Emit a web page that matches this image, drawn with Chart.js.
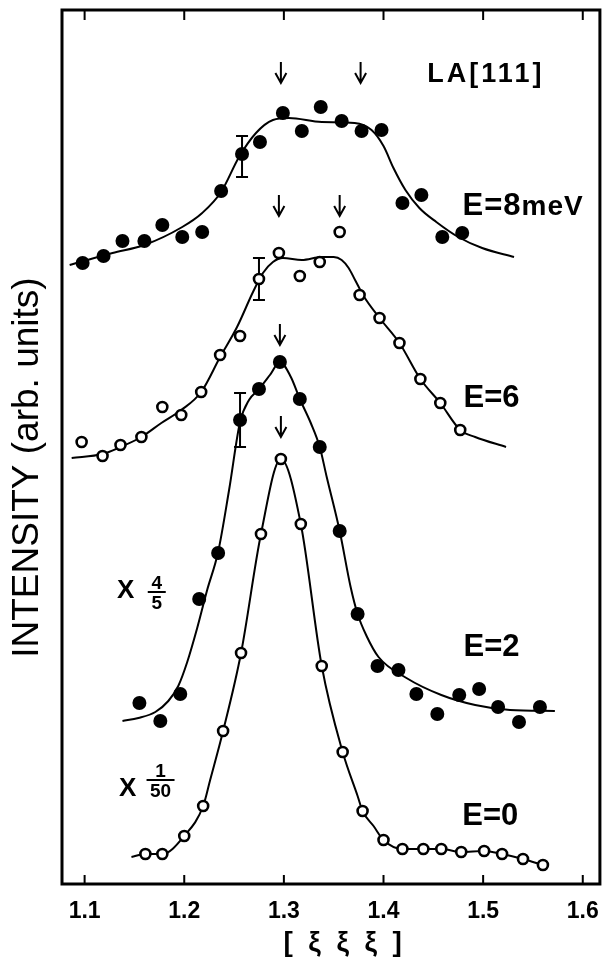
<!DOCTYPE html>
<html>
<head>
<meta charset="utf-8">
<title>LA[111] scans</title>
<script src="https://cdn.jsdelivr.net/npm/chart.js@4.4.1/dist/chart.umd.min.js"></script>
<style>
  html, body { margin: 0; padding: 0; background: #fff; }
  #wrap { width: 613px; height: 963px; }
</style>
</head>
<body>
<div id="wrap"><canvas id="scans" width="613" height="963"></canvas></div>
<script>
// [ξ ξ ξ] positions and intensities (arb. units)
const xTicks = [1.1, 1.2, 1.3, 1.4, 1.5, 1.6];

const e8X = [1.098, 1.119, 1.138, 1.160, 1.178, 1.198, 1.218, 1.237, 1.258, 1.276, 1.299, 1.318, 1.337, 1.358, 1.378, 1.398, 1.419, 1.438, 1.459, 1.479];
const e8Y = [621, 628, 643, 643, 659, 647, 652, 693, 730, 742, 771, 753, 777, 763, 753, 754, 681, 689, 647, 651];
const e8FitX = [1.085, 1.128, 1.160, 1.198, 1.218, 1.237, 1.255, 1.272, 1.289, 1.305, 1.338, 1.371, 1.388, 1.400, 1.410, 1.422, 1.436, 1.453, 1.475, 1.499, 1.531];
const e8FitY = [619, 631, 639, 657, 671, 692, 727, 751, 764, 766, 762, 761, 754, 738, 716, 694, 676, 662, 647, 636, 627];

const e6X = [1.097, 1.118, 1.136, 1.157, 1.178, 1.197, 1.217, 1.236, 1.256, 1.275, 1.295, 1.316, 1.336, 1.356, 1.376, 1.396, 1.416, 1.437, 1.457, 1.477];
const e6Y = [442, 428, 439, 447, 477, 469, 492, 529, 548, 605, 631, 608, 622, 652, 589, 566, 541, 505, 481, 454];
const e6FitX = [1.087, 1.118, 1.136, 1.157, 1.177, 1.197, 1.217, 1.236, 1.253, 1.269, 1.279, 1.289, 1.299, 1.318, 1.338, 1.350, 1.358, 1.365, 1.372, 1.380, 1.396, 1.416, 1.437, 1.457, 1.477, 1.492, 1.523];
const e6FitY = [426, 430, 437, 447, 461, 474, 492, 527, 557, 592, 611, 622, 626, 624, 627, 627, 624, 616, 603, 588, 566, 541, 505, 481, 454, 447, 437];

const e2X = [1.155, 1.176, 1.196, 1.215, 1.234, 1.256, 1.275, 1.296, 1.316, 1.336, 1.356, 1.374, 1.394, 1.415, 1.433, 1.454, 1.476, 1.496, 1.515, 1.536, 1.557];
const e2Y = [181, 163, 190, 285, 331, 464, 495, 522, 485, 437, 353, 270, 218, 214, 190, 170, 189, 195, 177, 162, 177];
const e2FitX = [1.138, 1.154, 1.171, 1.184, 1.194, 1.203, 1.213, 1.223, 1.234, 1.245, 1.256, 1.265, 1.275, 1.286, 1.296, 1.307, 1.316, 1.327, 1.336, 1.343, 1.356, 1.367, 1.374, 1.383, 1.395, 1.423, 1.458, 1.492, 1.527, 1.572];
const e2FitY = [163, 166, 172, 183, 198, 222, 256, 294, 332, 394, 462, 484, 495, 509, 522, 507, 485, 461, 437, 407, 353, 297, 270, 248, 227, 206, 189, 179, 174, 173];

const e0X = [1.161, 1.178, 1.200, 1.219, 1.239, 1.257, 1.277, 1.297, 1.317, 1.338, 1.359, 1.379, 1.400, 1.419, 1.440, 1.458, 1.478, 1.501, 1.519, 1.540, 1.560];
const e0Y = [30, 30, 48, 78, 153, 231, 350, 425, 360, 218, 132, 73, 44, 35, 35, 35, 32, 33, 30, 25, 19];
const e0FitX = [1.147, 1.161, 1.178, 1.200, 1.219, 1.226, 1.239, 1.257, 1.277, 1.297, 1.317, 1.338, 1.359, 1.374, 1.379, 1.390, 1.400, 1.419, 1.440, 1.458, 1.478, 1.501, 1.519, 1.540, 1.560];
const e0FitY = [27, 30, 30, 48, 78, 104, 153, 231, 350, 425, 360, 218, 132, 88, 73, 58, 44, 35, 35, 35, 32, 33, 30, 25, 19];

// phonon positions marked by arrows (tip of the arrow)
const arrowX = [1.297, 1.377, 1.295, 1.356, 1.296, 1.297];
const arrowY = [801, 801, 668, 668, 539, 447];

// typical error bars
const errX = [1.258, 1.275, 1.256];
const errLo = [707, 584, 437];
const errHi = [748, 626, 491];

const FONT = '"Liberation Sans", Arial, Helvetica, sans-serif';

// text placed in data coordinates (x = ξ, y = baseline)
const notes = [
  { parts: [['LA[111]', 27]], x: 1.4440, y: 802, spacing: 3 },
  { parts: [['E=8', 31], ['meV', 28]], x: 1.4793, y: 669, spacing: 1 },
  { parts: [['E=6', 31]], x: 1.4803, y: 477 },
  { parts: [['E=2', 31]], x: 1.4803, y: 228 },
  { parts: [['E=0', 31]], x: 1.4790, y: 59 },
  { parts: [['X', 26]], x: 1.1325, y: 286 },
  { parts: [['X', 26]], x: 1.1345, y: 88 }
];
const fractions = [
  { num: '4', den: '5', x: 1.1724, y: 292, half: 9 },
  { num: '1', den: '50', x: 1.1762, y: 104, half: 14 }
];

function dots(xs, ys, filled) {
  return {
    data: xs.map((v, i) => ({ x: v, y: ys[i] })),
    showLine: false,
    pointRadius: filled ? 7 : 5,
    pointBorderWidth: filled ? 0 : 2.6,
    pointBackgroundColor: filled ? '#000' : '#fff',
    pointBorderColor: '#000',
    order: 0
  };
}

function fit(xs, ys) {
  return {
    data: xs.map((v, i) => ({ x: v, y: ys[i] })),
    showLine: true,
    pointRadius: 0,
    borderColor: '#000',
    borderWidth: 2,
    cubicInterpolationMode: 'monotone',
    order: 1
  };
}

const figurePlugin = {
  id: 'figure',
  beforeDatasetsDraw(chart) {
    const { ctx, scales: { x, y } } = chart;
    ctx.save();
    ctx.strokeStyle = '#000';
    ctx.lineWidth = 2;
    errX.forEach((v, i) => {
      const px = x.getPixelForValue(v);
      const lo = y.getPixelForValue(errLo[i]);
      const hi = y.getPixelForValue(errHi[i]);
      ctx.beginPath();
      ctx.moveTo(px, lo); ctx.lineTo(px, hi);
      ctx.moveTo(px - 6, lo); ctx.lineTo(px + 6, lo);
      ctx.moveTo(px - 6, hi); ctx.lineTo(px + 6, hi);
      ctx.stroke();
    });
    ctx.restore();
  },
  afterDatasetsDraw(chart) {
    const { ctx, chartArea: a, scales: { x, y } } = chart;
    ctx.save();
    ctx.strokeStyle = '#000';
    ctx.fillStyle = '#000';

    // arrows
    ctx.lineWidth = 2;
    arrowX.forEach((v, i) => {
      const px = x.getPixelForValue(v);
      const tip = y.getPixelForValue(arrowY[i]);
      ctx.beginPath();
      ctx.moveTo(px, tip - 21); ctx.lineTo(px, tip);
      ctx.moveTo(px - 5.5, tip - 10); ctx.lineTo(px, tip); ctx.lineTo(px + 5.5, tip - 10);
      ctx.stroke();
    });

    // frame with inward ticks
    ctx.lineWidth = 3;
    ctx.strokeRect(a.left, a.top, a.right - a.left, a.bottom - a.top);
    ctx.lineWidth = 2;
    xTicks.forEach(v => {
      const px = x.getPixelForValue(v);
      ctx.beginPath();
      ctx.moveTo(px, a.bottom); ctx.lineTo(px, a.bottom - 9);
      ctx.moveTo(px, a.top); ctx.lineTo(px, a.top + 10);
      ctx.stroke();
    });

    // labels
    ctx.textBaseline = 'alphabetic';
    ctx.textAlign = 'left';
    notes.forEach(n => {
      let px = x.getPixelForValue(n.x);
      const py = y.getPixelForValue(n.y);
      ctx.letterSpacing = (n.spacing || 0) + 'px';
      n.parts.forEach(([t, size]) => {
        ctx.font = `bold ${size}px ${FONT}`;
        ctx.fillText(t, px, py);
        px += ctx.measureText(t).width;
      });
    });
    ctx.letterSpacing = '0px';

    ctx.textAlign = 'center';
    ctx.font = `bold 19px ${FONT}`;
    fractions.forEach(f => {
      const px = x.getPixelForValue(f.x);
      const py = y.getPixelForValue(f.y);
      ctx.fillText(f.num, px, py - 3.5);
      ctx.fillText(f.den, px, py + 17);
      ctx.beginPath();
      ctx.moveTo(px - f.half, py); ctx.lineTo(px + f.half, py);
      ctx.stroke();
    });
    ctx.restore();
  }
};

Chart.defaults.font.family = FONT;
Chart.defaults.color = '#000';

new Chart(document.getElementById('scans'), {
  type: 'scatter',
  data: {
    datasets: [
      dots(e8X, e8Y, true),
      dots(e6X, e6Y, false),
      dots(e2X, e2Y, true),
      dots(e0X, e0Y, false),
      fit(e8FitX, e8FitY),
      fit(e6FitX, e6FitY),
      fit(e2FitX, e2FitY),
      fit(e0FitX, e0FitY)
    ]
  },
  options: {
    responsive: false,
    animation: false,
    events: [],
    layout: { padding: { top: 10, right: 3, left: 0, bottom: 0 } },
    plugins: {
      legend: { display: false },
      tooltip: { enabled: false }
    },
    scales: {
      x: {
        type: 'linear',
        min: 1.0773,
        max: 1.6172,
        grid: { display: false, drawTicks: false },
        border: { display: false },
        afterBuildTicks: s => { s.ticks = xTicks.map(v => ({ value: v })); },
        afterFit: s => { s.height = 79; },
        ticks: {
          padding: 14,
          color: '#000',
          font: { size: 23, weight: 'bold' },
          callback: v => Number(v).toFixed(1)
        },
        title: {
          display: true,
          text: '   [  \u03BE  \u03BE  \u03BE  ]',
          color: '#000',
          font: { size: 28, weight: 'bold' },
          padding: { top: 0, bottom: 3 }
        }
      },
      y: {
        min: 0,
        max: 874,
        grid: { display: false, drawTicks: false },
        border: { display: false },
        ticks: { display: false },
        afterFit: s => { s.width = 62; },
        title: {
          display: true,
          text: 'INTENSITY (arb. units)    ',
          color: '#000',
          font: { size: 37, weight: 'normal' },
          padding: { top: 6, bottom: 0 }
        }
      }
    }
  },
  plugins: [figurePlugin]
});
</script>
</body>
</html>
